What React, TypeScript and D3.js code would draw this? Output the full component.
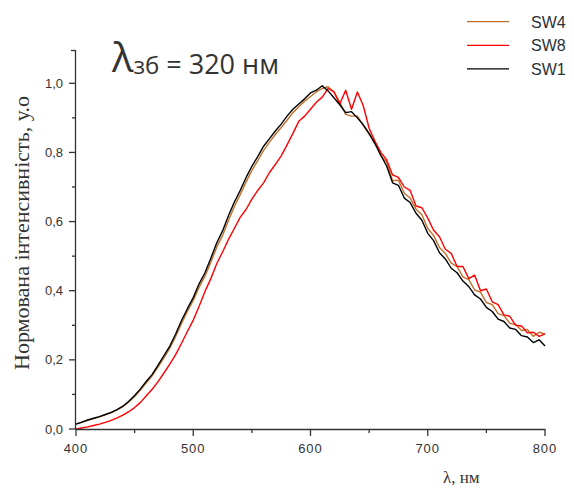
import React from "react";
import * as d3 from "d3";

const wavelengths: number[] = d3.range(400, 801, 5);

const sw1: number[] = [
  0.014, 0.020, 0.026, 0.031, 0.036, 0.042, 0.048, 0.056, 0.066, 0.080,
  0.097, 0.116, 0.138, 0.158, 0.185, 0.212, 0.240, 0.275, 0.314, 0.348,
  0.380, 0.420, 0.452, 0.494, 0.538, 0.573, 0.617, 0.656, 0.690, 0.727,
  0.760, 0.788, 0.818, 0.840, 0.862, 0.882, 0.905, 0.925, 0.940, 0.955,
  0.972, 0.980, 0.993, 0.978, 0.958, 0.938, 0.915, 0.918, 0.900, 0.880,
  0.855, 0.825, 0.792, 0.760, 0.712, 0.705, 0.668, 0.655, 0.624, 0.604,
  0.566, 0.545, 0.510, 0.492, 0.465, 0.452, 0.428, 0.412, 0.388, 0.376,
  0.352, 0.340, 0.318, 0.311, 0.292, 0.288, 0.270, 0.266, 0.250, 0.258,
  0.240,
];

const sw4: number[] = [
  0.014, 0.019, 0.025, 0.030, 0.035, 0.041, 0.047, 0.055, 0.065, 0.078,
  0.094, 0.113, 0.134, 0.154, 0.180, 0.206, 0.234, 0.268, 0.305, 0.340,
  0.372, 0.410, 0.442, 0.482, 0.526, 0.560, 0.603, 0.643, 0.678, 0.714,
  0.748, 0.776, 0.806, 0.830, 0.852, 0.872, 0.893, 0.915, 0.932, 0.948,
  0.962, 0.975, 0.985, 0.990, 0.975, 0.945, 0.910, 0.905, 0.905, 0.878,
  0.852, 0.828, 0.790, 0.772, 0.718, 0.720, 0.682, 0.668, 0.636, 0.620,
  0.580, 0.560, 0.525, 0.508, 0.480, 0.470, 0.440, 0.432, 0.402, 0.396,
  0.366, 0.360, 0.334, 0.328, 0.306, 0.302, 0.285, 0.288, 0.268, 0.280,
  0.275,
];

const sw8: number[] = [
  0.000, 0.003, 0.006, 0.010, 0.014, 0.019, 0.025, 0.032, 0.040, 0.050,
  0.062, 0.077, 0.096, 0.115, 0.137, 0.162, 0.188, 0.215, 0.248, 0.282,
  0.315, 0.355, 0.398, 0.435, 0.478, 0.512, 0.548, 0.580, 0.612, 0.635,
  0.665, 0.690, 0.712, 0.742, 0.765, 0.790, 0.822, 0.855, 0.890, 0.905,
  0.925, 0.945, 0.960, 0.985, 0.975, 0.940, 0.980, 0.925, 0.975, 0.935,
  0.870, 0.832, 0.800, 0.778, 0.735, 0.728, 0.700, 0.690, 0.645, 0.640,
  0.610, 0.575, 0.556, 0.520, 0.508, 0.470, 0.470, 0.435, 0.445, 0.400,
  0.405, 0.368, 0.360, 0.330, 0.326, 0.300, 0.298, 0.278, 0.280, 0.268,
  0.275,
];

const xTicks: number[] = [400, 500, 600, 700, 800];
const xMinorTicks: number[] = [450, 550, 650, 750];
const yTicks: number[] = [0, 0.2, 0.4, 0.6, 0.8, 1.0];
const yMinorTicks: number[] = [0.1, 0.3, 0.5, 0.7, 0.9];
const seriesNames: string[] = ["SW4", "SW8", "SW1"];
const seriesColors: string[] = ["#c0702c", "#ff0000", "#000000"];

export default function App() {
  const W = 574;
  const H = 488;
  const x = d3.scaleLinear().domain([400, 800]).range([76, 545]);
  const y = d3.scaleLinear().domain([0, 1]).range([429, 83.3]);
  const axisColor = "#333";

  const line = d3
    .line<number>()
    .x((_, i) => x(wavelengths[i]))
    .y((v) => y(v));

  const dataMap: Record<string, number[]> = { SW4: sw4, SW8: sw8, SW1: sw1 };
  const drawOrder = ["SW4", "SW8", "SW1"];
  const fmt = (v: number) => v.toFixed(1).replace(".", ",");

  return (
    <svg
      width={W}
      height={H}
      style={{ position: "absolute", left: 0, top: 0, background: "#fff" }}
    >
      <rect x={0} y={0} width={W} height={H} fill="#fff" />
      {drawOrder.map((name) => (
        <path
          key={name}
          d={line(dataMap[name]) || ""}
          fill="none"
          stroke={seriesColors[seriesNames.indexOf(name)]}
          strokeWidth={1.4}
          strokeLinejoin="round"
        />
      ))}
      <line x1={75.5} x2={545.5} y1={429.5} y2={429.5} stroke={axisColor} strokeWidth={1.3} />
      <line x1={75.5} x2={75.5} y1={429.5} y2={50} stroke={axisColor} strokeWidth={1.3} />
      <line x1={71} x2={75.5} y1={50.5} y2={50.5} stroke={axisColor} strokeWidth={1.3} />
      {xTicks.map((t) => (
        <g key={"xt" + t}>
          <line x1={x(t)} x2={x(t)} y1={429.5} y2={436} stroke={axisColor} strokeWidth={1.3} />
          <text
            x={x(t)}
            y={453}
            textAnchor="middle"
            fontFamily="'Liberation Sans', Arial, sans-serif"
            fontSize={13}
            letterSpacing={1}
            fill="#333"
          >
            {t}
          </text>
        </g>
      ))}
      {xMinorTicks.map((t) => (
        <line key={"xm" + t} x1={x(t)} x2={x(t)} y1={429.5} y2={433} stroke={axisColor} strokeWidth={1.3} />
      ))}
      {yTicks.map((t) => (
        <g key={"yt" + t}>
          <line x1={69} x2={75.5} y1={y(t)} y2={y(t)} stroke={axisColor} strokeWidth={1.3} />
          <text
            x={63}
            y={y(t) + 4.5}
            textAnchor="end"
            fontFamily="'Liberation Sans', Arial, sans-serif"
            fontSize={13}
            fill="#333"
          >
            {fmt(t)}
          </text>
        </g>
      ))}
      {yMinorTicks.map((t) => (
        <line key={"ym" + t} x1={72} x2={75.5} y1={y(t)} y2={y(t)} stroke={axisColor} strokeWidth={1.3} />
      ))}
      <text
        transform="translate(29,233) rotate(-90)"
        textAnchor="middle"
        fontFamily="'Liberation Serif', 'Times New Roman', serif"
        fontSize={22}
        fill="#333"
      >
        Нормована інтенсивність, у.о
      </text>
      <text
        x={443}
        y={483}
        fontFamily="'Liberation Serif', 'Times New Roman', serif"
        fontSize={17}
        fill="#333"
      >
        λ, нм
      </text>
      <text x={112} y={72} fontFamily="'Open Sans', sans-serif" fill="#333">
        <tspan fontSize={40}>λ</tspan>
        <tspan fontSize={24} dy={2}>зб</tspan>
        <tspan fontSize={27} dx={7} dy={0}>= 320 нм</tspan>
      </text>
      {seriesNames.map((name, i) => (
        <g key={"lg" + name}>
          <line
            x1={467}
            x2={509}
            y1={21.7 + i * 23.6}
            y2={21.7 + i * 23.6}
            stroke={seriesColors[i]}
            strokeWidth={1.3}
          />
          <text
            x={531}
            y={27.5 + i * 23.6}
            fontFamily="'Liberation Sans', Arial, sans-serif"
            fontSize={16}
            fill="#2a2f3a"
          >
            {name}
          </text>
        </g>
      ))}
    </svg>
  );
}
